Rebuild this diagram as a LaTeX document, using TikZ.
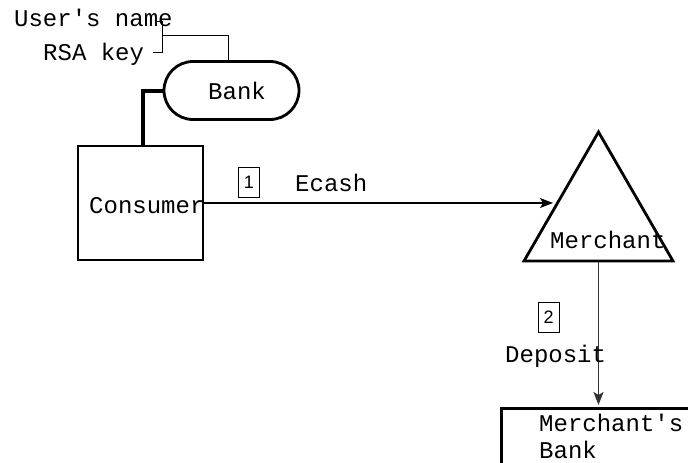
\documentclass[tikz,border=0pt]{standalone}
\usepackage{fontspec}
\setmonofont{Liberation Mono}
\newfontfamily\digitfont{Liberation Sans}
\usetikzlibrary{shapes.geometric,arrows.meta}
\begin{document}
\begin{tikzpicture}[x=1pt,y=-1pt,
  lbl/.style={font=\fontsize{24pt}{28pt}\selectfont\ttfamily, inner sep=0pt, anchor=base west},
  box/.style={draw, line width=2.8pt, inner sep=0pt},
  numbox/.style={draw, line width=0.8pt, minimum width=21pt, minimum height=30pt,
    inner sep=0pt, font=\fontsize{18pt}{20pt}\selectfont\digitfont},
  flow/.style={-{Stealth[length=13pt,width=10pt,inset=3pt]}},
  thin/.style={line width=1pt}]
  \clip (0,0) rectangle (688,463);

  % parties
  \node[box, rounded corners=29pt, line width=2.8pt, minimum width=135pt, minimum height=58pt] (bank) at (231.5,90.5) {};
  \node[lbl] (banklbl) at (208,99) {Bank};
  \node[box, minimum width=125pt, minimum height=114pt] (consumer) at (140.5,203) {};
  \node[lbl] (consumerlbl) at (89,213) {Consumer};
  \node[box, regular polygon, regular polygon sides=3, minimum size=172pt] (merchant) at (598.5,218) {};
  \node[lbl] (merchantlbl) at (550,248) {Merchant};
  \node[box, anchor=north west, minimum width=240pt, minimum height=90pt] (mbank) at (500,407) {};
  \node[lbl] (mbank1) at (539,431) {Merchant's};
  \node[lbl] (mbank2) at (539,458) {Bank};

  % account data held by the bank
  \node[lbl] (uname) at (14,27) {User's name};
  \node[lbl] (rsa) at (43,60) {RSA key};
  \coordinate (brtop) at (157,21);
  \coordinate (brbot) at (153,52);
  \coordinate (brmid) at (162,35);
  \draw[thin] (brtop) -- (brtop -| brmid) -- (brbot -| brmid) -- (brbot);
  \draw[thin] (brmid) -| ([xshift=-3.5pt]bank.north);

  % consumer account link
  \draw[line width=4pt] (bank.west) -| ([xshift=2.5pt]consumer.north);

  % step 1: payment
  \coordinate (ecashend) at (553,203);
  \draw[flow, line width=1.2pt] (consumer.east) -- (ecashend);
  \node[numbox] (n1) at (249,182.5) {1};
  \node[lbl] (ecash) at (295,191) {Ecash};

  % step 2: deposit
  \draw[flow, line width=1.9pt, draw=black!80, shorten >=2pt] (merchant.side 2) -- (merchant.side 2 |- mbank.north);
  \node[numbox] (n2) at (548.5,317.5) {2};
  \node[lbl] (deposit) at (505,362) {Deposit};
\end{tikzpicture}
\end{document}
